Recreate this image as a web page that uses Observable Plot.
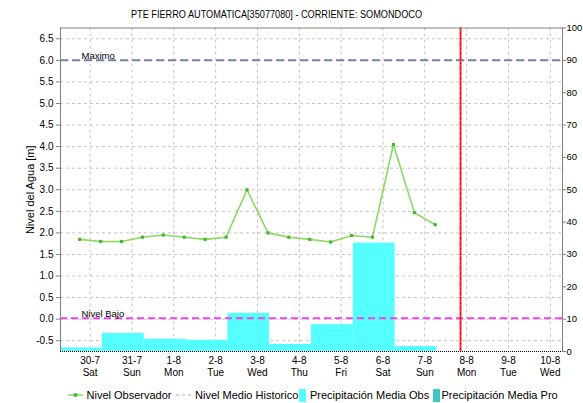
<!DOCTYPE html>
<html><head><meta charset="utf-8">
<script src="https://cdn.jsdelivr.net/npm/d3@7"></script>
<script src="https://cdn.jsdelivr.net/npm/@observablehq/plot@0.6"></script>
<style>
body{margin:0;background:#fff;font-family:"Liberation Sans",Arial,sans-serif;}
#wrap{position:relative;width:583px;height:403px;overflow:hidden;background:#fff}
#title{position:absolute;top:8px;left:0;width:553px;text-align:center;font-size:10px;line-height:14px;color:#000;transform:scaleX(0.915);transform-origin:276.5px 0}
#chart{position:absolute;top:22px;left:0}
#legend{position:absolute;top:388px;left:0;width:583px;height:14px;font-size:11px;line-height:14px;white-space:nowrap;color:#000}
#legend .el{position:absolute;top:0;height:14px;display:flex;align-items:center}
</style></head>
<body>
<div id="wrap">
  <div id="title">PTE FIERRO AUTOMATICA[35077080] - CORRIENTE: SOMONDOCO</div>
  <div id="chart"></div>
  <div id="legend"></div>
</div>
<script>
// ---- data ----
const dayLabels = ["30-7","31-7","1-8","2-8","3-8","4-8","5-8","6-8","7-8","8-8","9-8","10-8"];
const weekdayLabels = ["Sat","Sun","Mon","Tue","Wed","Thu","Fri","Sat","Sun","Mon","Tue","Wed"];
const dayDates = ["2022-07-30","2022-07-31","2022-08-01","2022-08-02","2022-08-03","2022-08-04",
                  "2022-08-05","2022-08-06","2022-08-07","2022-08-08","2022-08-09","2022-08-10"];
const levelTimes = ["2022-07-29T18:00Z","2022-07-30T06:00Z","2022-07-30T18:00Z","2022-07-31T06:00Z",
  "2022-07-31T18:00Z","2022-08-01T06:00Z","2022-08-01T18:00Z","2022-08-02T06:00Z","2022-08-02T18:00Z",
  "2022-08-03T06:00Z","2022-08-03T18:00Z","2022-08-04T06:00Z","2022-08-04T18:00Z","2022-08-05T06:00Z",
  "2022-08-05T18:00Z","2022-08-06T06:00Z","2022-08-06T18:00Z","2022-08-07T06:00Z"];
const levelObs = [1.85,1.80,1.80,1.90,1.95,1.90,1.85,1.90,3.00,2.00,1.90,1.85,1.79,1.94,1.90,4.05,2.47,2.19];
const precipStarts = ["2022-07-29T07:00Z","2022-07-30T07:00Z","2022-07-31T07:00Z","2022-08-01T07:00Z",
  "2022-08-02T07:00Z","2022-08-03T07:00Z","2022-08-04T07:00Z","2022-08-05T07:00Z","2022-08-06T07:00Z"];
const precipObs = [1.1,5.6,3.8,3.5,11.8,2.2,8.3,33.5,1.5];
const leftTicks = [-0.5,0,0.5,1,1.5,2,2.5,3,3.5,4,4.5,5,5.5,6,6.5];
const rightTicks = [0,10,20,30,40,50,60,70,80,90,100];
const nivelMaximo = 6.0;
const nivelBajo = 0.02;
const nowTime = "2022-08-07T20:30Z";
const xDomain = ["2022-07-29T07:00Z","2022-08-10T07:00Z"];
const yLabel = "Nivel del Agua [m]";

// level (m) -> right-axis units (precipitation scale)
const lv = v => v / 0.075 + 10;
const D = s => new Date(s.length === 10 ? s + "T00:00Z" : s);

const levelData = levelTimes.map((t, i) => ({t: D(t), v: levelObs[i]}));
const precipData = precipStarts.map((t, i) => ({x1: D(t), x2: d3.utcDay.offset(D(t), 1), v: precipObs[i]}));
const days = dayDates.map((d, i) => ({d: D(d), label: dayLabels[i] + "\n" + weekdayLabels[i]}));

const gridStyle = {stroke: "#c4c4c4", strokeDasharray: "3,3", strokeWidth: 1};

const chart = Plot.plot({
  width: 583, height: 358,
  marginLeft: 60, marginRight: 21, marginTop: 5.5, marginBottom: 29,
  style: {fontFamily: "'Liberation Sans', Arial, sans-serif", fontSize: "10px", background: "transparent", color: "#000"},
  x: {type: "utc", domain: xDomain.map(D), axis: null},
  y: {domain: [0, 100], axis: null},
  marks: [
    Plot.ruleY(leftTicks, {y: d => lv(d), ...gridStyle}),
    Plot.ruleX(days, {x: "d", ...gridStyle}),
    Plot.rect(precipData, {x1: "x1", x2: "x2", y1: 0, y2: "v", fill: "#55ffff"}),
    Plot.ruleY([nivelMaximo], {y: d => lv(d), stroke: "#7484a8", strokeWidth: 2, strokeDasharray: "8,4"}),
    Plot.text(["Maximo"], {frameAnchor: "left", y: () => lv(nivelMaximo), dx: 21, dy: -1, lineAnchor: "bottom", textAnchor: "start", fontSize: 9.5, fill: "#000"}),
    Plot.ruleY([nivelBajo], {y: d => lv(d), stroke: "#ee44ee", strokeWidth: 2, strokeDasharray: "7,4"}),
    Plot.text(["Nivel Bajo"], {frameAnchor: "left", y: () => lv(nivelBajo), dx: 21, dy: -1, lineAnchor: "bottom", textAnchor: "start", fontSize: 9.5, fill: "#000"}),
    Plot.line(levelData, {x: "t", y: d => lv(d.v), stroke: "#8cd866", strokeWidth: 1.6}),
    Plot.dot(levelData, {x: "t", y: d => lv(d.v), symbol: "square", r: 1.8, fill: "#44b82a", stroke: null}),
    Plot.ruleX([nowTime], {x: d => D(d), stroke: "#ff3030", strokeWidth: 2}),
    Plot.ruleX([nowTime], {x: d => D(d), stroke: "#c80000", strokeWidth: 1, strokeDasharray: "2,3"}),
    Plot.frame({anchor: "top", stroke: "#808080"}),
    Plot.frame({anchor: "left", stroke: "#808080"}),
    Plot.frame({anchor: "right", stroke: "#808080"}),
    Plot.ruleY([0], {stroke: "#000", strokeDasharray: "1,1"}),
    Plot.axisY(leftTicks.map(lv), {anchor: "left", tickSize: 4, tickPadding: 3, stroke: "#808080", fill: "#000",
      tickFormat: p => ((p - 10) * 0.075).toFixed(1), label: null}),
    Plot.text([yLabel], {frameAnchor: "left", dx: -30, rotate: -90, textAnchor: "middle", lineAnchor: "middle", fontSize: 11, fill: "#000"}),
    Plot.axisY(rightTicks, {anchor: "right", tickSize: 3, tickPadding: 1, fontSize: 9.5, stroke: "#808080", fill: "#000", label: null}),
    Plot.text(days, {x: "d", text: "label", frameAnchor: "bottom", lineAnchor: "top", dy: 4, lineHeight: 1.2, fontSize: 10, fill: "#000"})
  ]
});
document.getElementById("chart").appendChild(chart);

// legend
const legendItems = [
  {name: "Nivel Observador", kind: "lineMarker", color: "#44b82a", symX: 68, textX: 86.5},
  {name: "Nivel Medio Historico", kind: "dash", color: "#c8c8c8", symX: 176, textX: 195},
  {name: "Precipitación Media Obs", kind: "box", color: "#55ffff", symX: 299, textX: 310},
  {name: "Precipitación Media Pro", kind: "box", color: "#40c8c8", symX: 432.5, textX: 441.5}
];
const leg = document.getElementById("legend");
legendItems.forEach(it => {
  let sym;
  if (it.kind === "lineMarker") {
    sym = `<svg width="15" height="10"><line x1="0" y1="5" x2="15" y2="5" stroke="#8cd866" stroke-width="1.5"/><rect x="5.75" y="3.25" width="3.5" height="3.5" fill="${it.color}"/></svg>`;
  } else if (it.kind === "dash") {
    sym = `<svg width="15" height="10"><line x1="0" y1="5" x2="15" y2="5" stroke="${it.color}" stroke-width="1.5" stroke-dasharray="3,3"/></svg>`;
  } else {
    sym = `<svg width="7" height="13"><rect x="0" y="0" width="7" height="13" fill="${it.color}"/></svg>`;
  }
  const s = document.createElement("div");
  s.className = "el"; s.style.left = it.symX + "px"; s.innerHTML = sym;
  const t = document.createElement("div");
  t.className = "el"; t.style.left = it.textX + "px"; t.textContent = it.name;
  leg.appendChild(s); leg.appendChild(t);
});
</script>
</body></html>
